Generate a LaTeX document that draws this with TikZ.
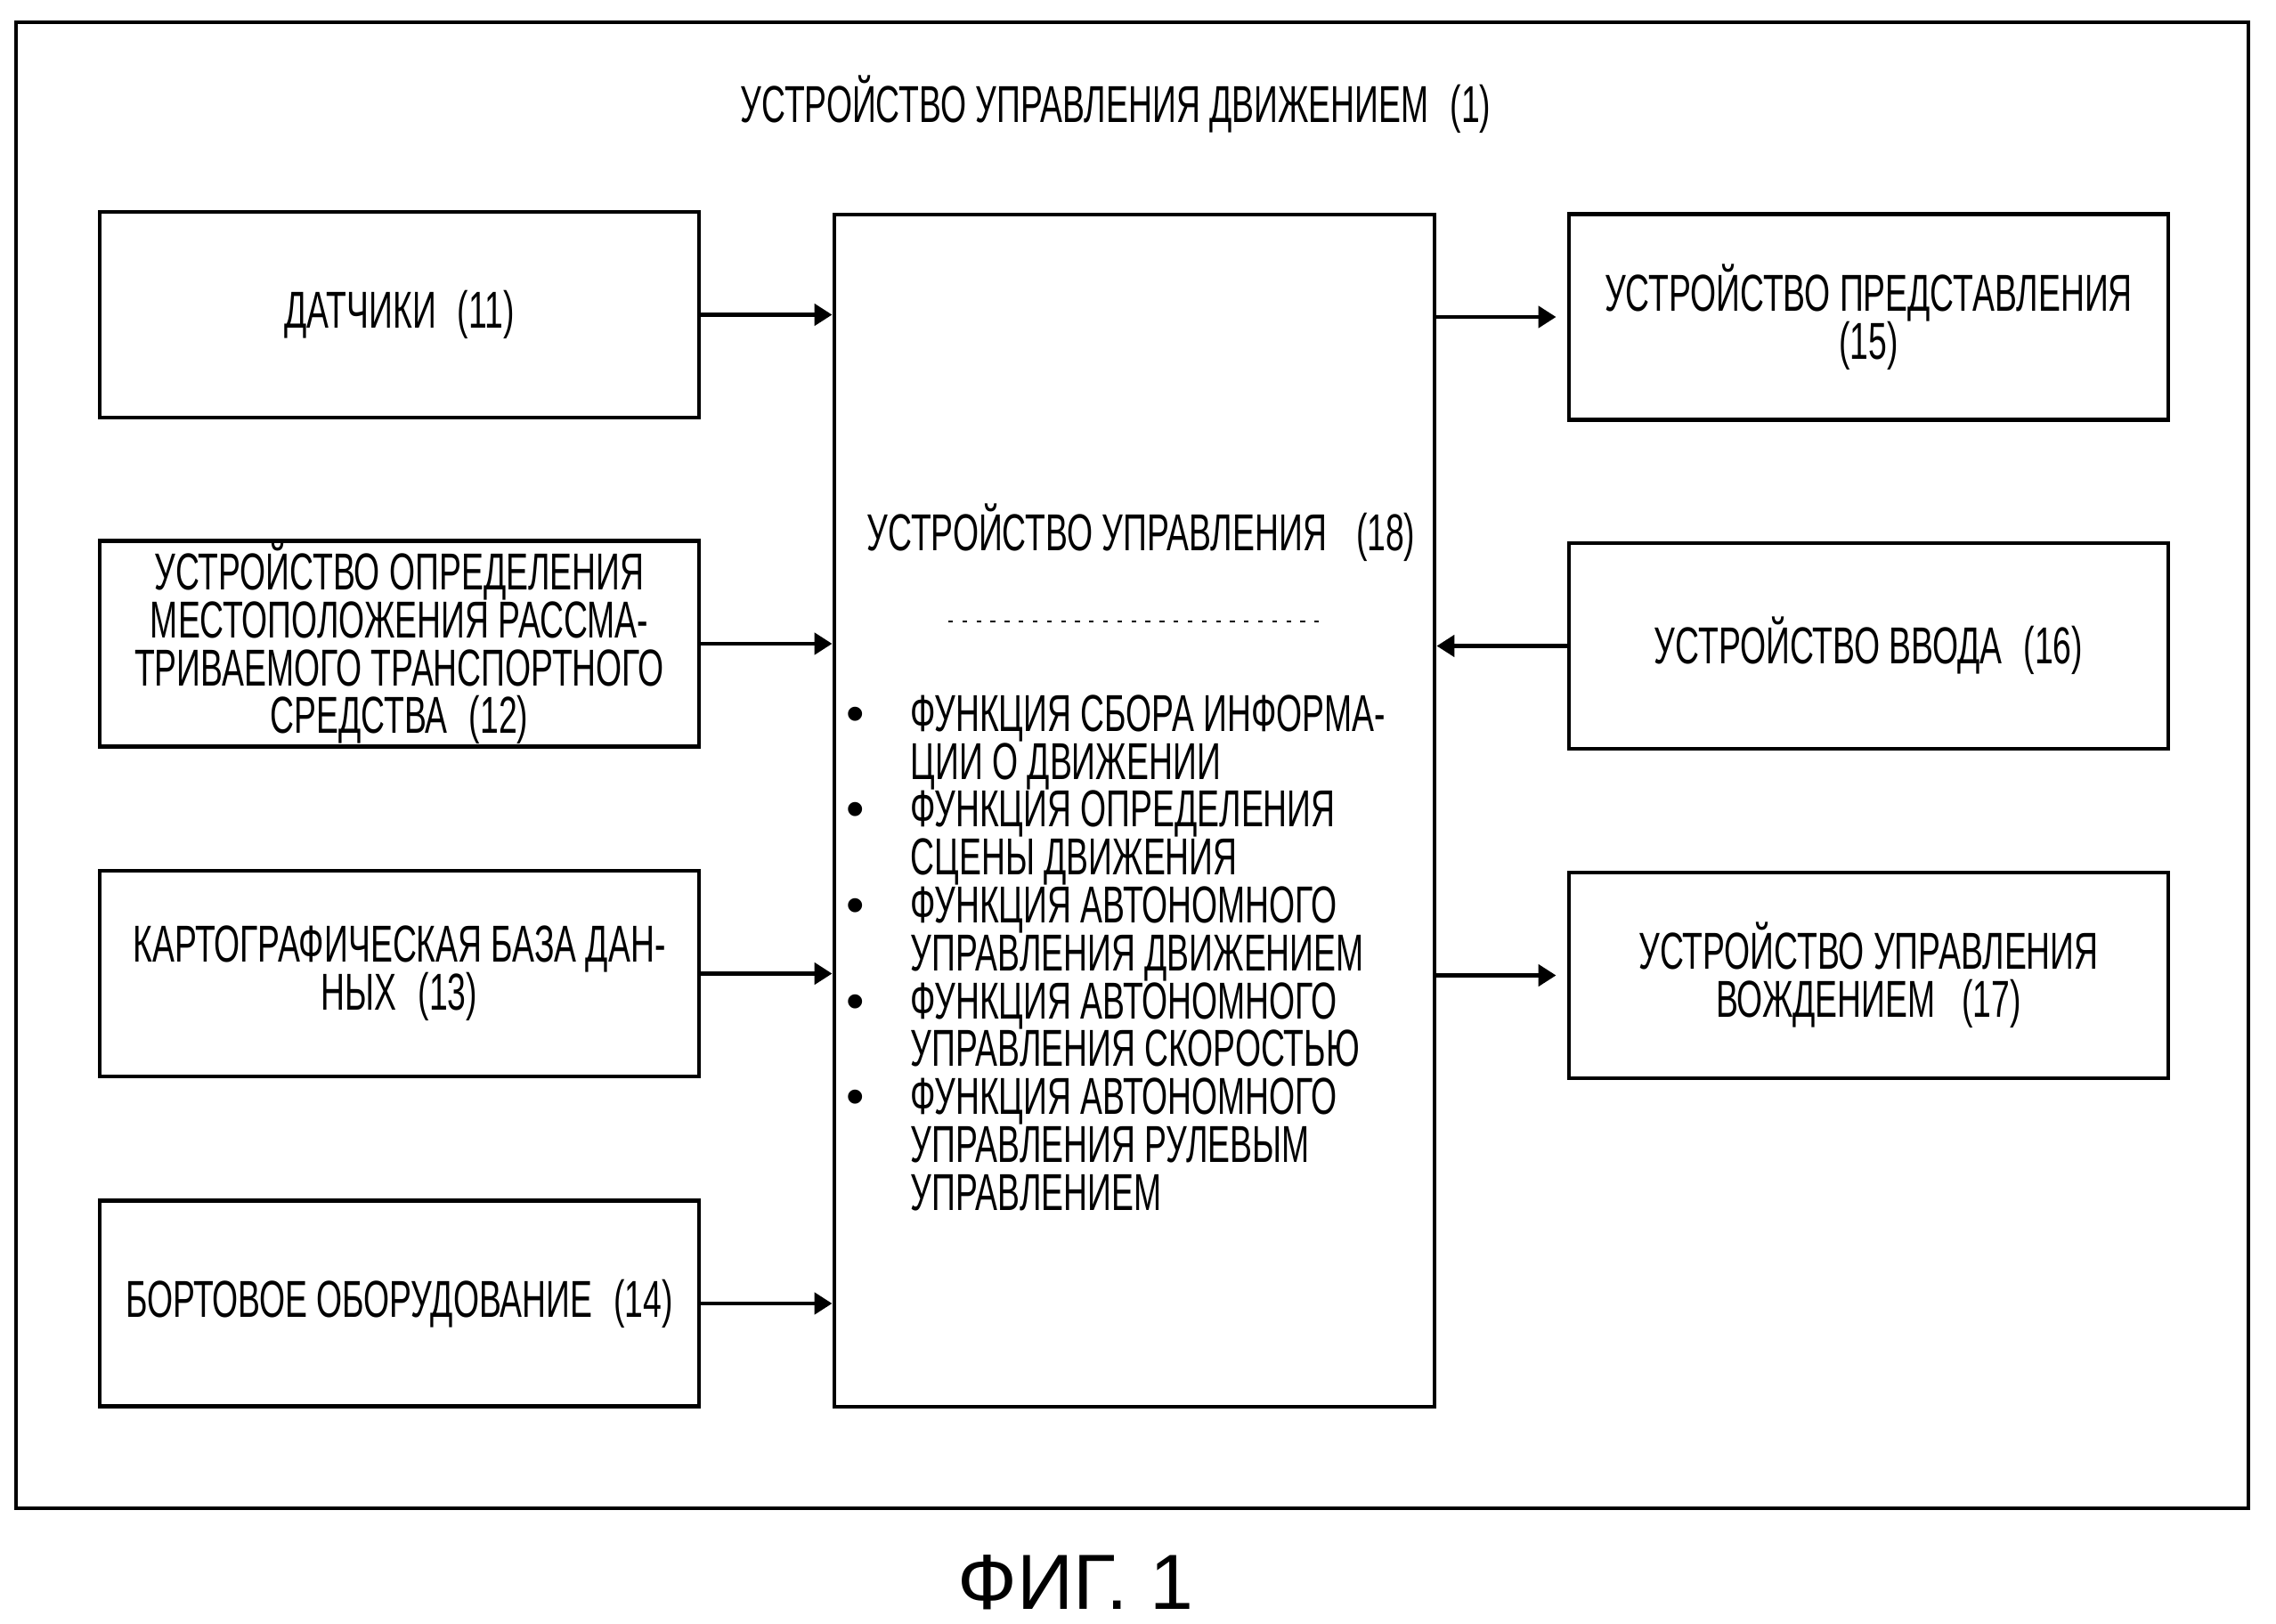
\documentclass[tikz,border=0pt]{standalone}
\usepackage{fontspec}
\setmainfont{Liberation Sans}
\newfontfamily\narrow[FakeStretch=0.64]{Liberation Sans}
\newfontfamily\roundfont{Liberation Sans}
\usepackage{tikz}
\usetikzlibrary{arrows.meta,calc,positioning}
\newcommand\boxfont{\narrow\fontsize{16.6}{15.3}\selectfont\setlength{\lineskiplimit}{-20pt}}
\newcommand\bul{\makebox[0.72cm][l]{\roundfont\textbullet}}
\newcommand\nobul{\hspace*{0.72cm}}

\begin{document}
\begin{tikzpicture}[
  box/.style={draw, line width=1.4pt, minimum width=6.73cm, minimum height=2.31cm,
    align=center, inner sep=0pt, font=\boxfont},
  txt/.style={inner sep=0pt, font=\boxfont},
  arr/.style={-{Triangle[length=2mm,width=2.4mm]}, line width=1.4pt}]
\useasboundingbox (0,0) rectangle (25.56,-18.24);
\draw[line width=1.4pt] (0.18,-0.25) rectangle (25.25,-16.94);
\node[txt] (T1) at (12.53,-1.17) {УСТРОЙСТВО УПРАВЛЕНИЯ ДВИЖЕНИЕМ\hspace{0.24cm}(1)};

\node[box] (D11) at (4.485,-3.535) {ДАТЧИКИ\hspace{0.24cm}(11)};
\node[box] (D12) at (4.485,-7.23) {УСТРОЙСТВО ОПРЕДЕЛЕНИЯ\\МЕСТОПОЛОЖЕНИЯ РАССМА-\\ТРИВАЕМОГО ТРАНСПОРТНОГО\\СРЕДСТВА\hspace{0.24cm}(12)};
\node[box] (D13) at (4.485,-10.935) {КАРТОГРАФИЧЕСКАЯ БАЗА ДАН-\\НЫХ\hspace{0.24cm}(13)};
\node[box] (D14) at (4.485,-14.64) {БОРТОВОЕ ОБОРУДОВАНИЕ\hspace{0.24cm}(14)};

\node[box, minimum width=6.74cm, minimum height=13.39cm] (C18) at (12.74,-9.105) {};
\node[txt, anchor=west] (H18) at (9.73,-5.98) {УСТРОЙСТВО УПРАВЛЕНИЯ\hspace{0.33cm}(18)};
\coordinate (S1) at (10.65,-6.98);
\coordinate (S2) at (14.90,-6.98);
\draw[line width=0.4pt, dash pattern=on 1.5pt off 3pt] (S1) -- (S2);
\node[txt, align=left, anchor=north west] (L18) at (9.50,-7.80) {%
\bul ФУНКЦИЯ СБОРА ИНФОРМА-\\
\nobul ЦИИ О ДВИЖЕНИИ\\
\bul ФУНКЦИЯ ОПРЕДЕЛЕНИЯ\\
\nobul СЦЕНЫ ДВИЖЕНИЯ\\
\bul ФУНКЦИЯ АВТОНОМНОГО\\
\nobul УПРАВЛЕНИЯ ДВИЖЕНИЕМ\\
\bul ФУНКЦИЯ АВТОНОМНОГО\\
\nobul УПРАВЛЕНИЯ СКОРОСТЬЮ\\
\bul ФУНКЦИЯ АВТОНОМНОГО\\
\nobul УПРАВЛЕНИЯ РУЛЕВЫМ\\
\nobul УПРАВЛЕНИЕМ};

\node[box] (R15) at (20.985,-3.56) {УСТРОЙСТВО ПРЕДСТАВЛЕНИЯ\\(15)};
\node[box] (R16) at (20.985,-7.255) {УСТРОЙСТВО ВВОДА\hspace{0.24cm}(16)};
\node[box] (R17) at (20.985,-10.955) {УСТРОЙСТВО УПРАВЛЕНИЯ\\ВОЖДЕНИЕМ\hspace{0.3cm}(17)};

\draw[arr] (D11.east) -- (D11.east -| C18.west);
\draw[arr] (D12.east) -- (D12.east -| C18.west);
\draw[arr] (D13.east) -- (D13.east -| C18.west);
\draw[arr] (D14.east) -- (D14.east -| C18.west);
\draw[arr, shorten >=1.2mm] (C18.east |- R15.west) -- (R15.west);
\draw[arr] (R16.west) -- (R16.west -| C18.east);
\draw[arr, shorten >=1.2mm] (C18.east |- R17.west) -- (R17.west);

\node[font=\fontsize{25}{30}\selectfont, inner sep=0pt] (F1) at (12.08,-17.77) {ФИГ. 1};
\end{tikzpicture}
\end{document}
